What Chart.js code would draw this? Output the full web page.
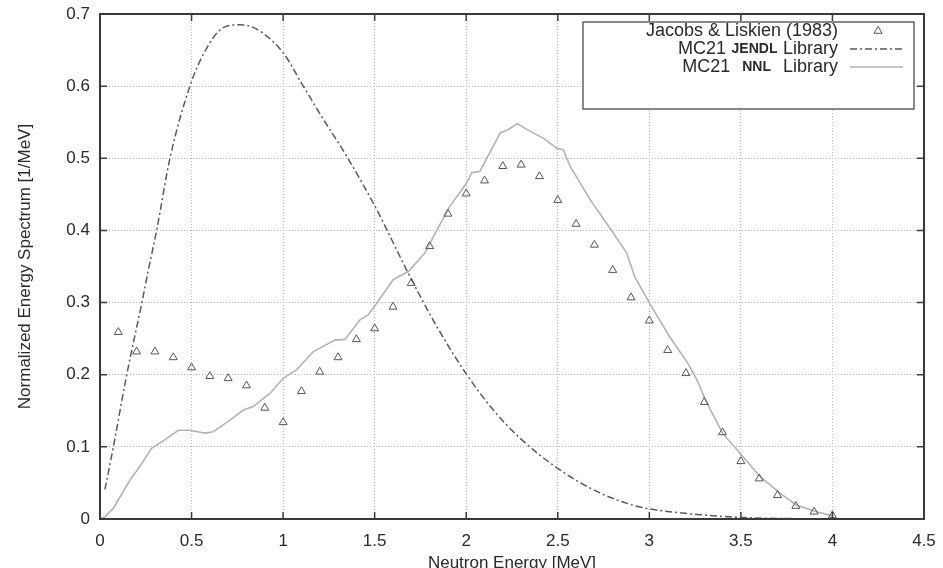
<!DOCTYPE html>
<html><head><meta charset="utf-8">
<script src="https://cdn.jsdelivr.net/npm/chart.js@4"></script>
<style>html,body{margin:0;padding:0;background:#fff}#wrap{width:943px;height:568px;position:relative}</style>
</head><body><div id="wrap"><canvas id="c"></canvas></div>
<script>
// ---- data ----
const expEnergy = [0.1,0.2,0.3,0.4,0.5,0.6,0.7,0.8,0.9,1.0,1.1,1.2,1.3,1.4,1.5,1.6,1.7,1.8,1.9,2.0,2.1,2.2,2.3,2.4,2.5,2.6,2.7,2.8,2.9,3.0,3.1,3.2,3.3,3.4,3.5,3.6,3.7,3.8,3.9,4.0];
const expSpectrum = [0.259,0.232,0.232,0.224,0.210,0.198,0.195,0.185,0.154,0.134,0.177,0.204,0.224,0.249,0.264,0.294,0.327,0.378,0.423,0.451,0.469,0.489,0.491,0.475,0.442,0.409,0.380,0.345,0.307,0.275,0.234,0.202,0.162,0.120,0.080,0.056,0.033,0.018,0.010,0.005];

const jendlEnergy = [0.027,0.073,0.146,0.228,0.264,0.31,0.382,0.491,0.564,0.673,0.765,0.856,1.001,1.11,1.22,1.347,1.511,1.675,1.839,2.003,2.148,2.294,2.512,2.731,2.913,3.0,3.277,3.51,4.0];
const jendlSpectrum = [0.041,0.100,0.200,0.299,0.345,0.401,0.500,0.600,0.644,0.681,0.685,0.679,0.646,0.600,0.554,0.503,0.429,0.345,0.267,0.200,0.151,0.112,0.068,0.036,0.019,0.014,0.006,0.002,0.0];

const nnlEnergy = [0.0,0.027,0.073,0.164,0.218,0.282,0.355,0.428,0.49,0.573,0.619,0.71,0.783,0.837,0.928,1.001,1.074,1.165,1.283,1.338,1.42,1.465,1.511,1.602,1.684,1.775,1.83,1.91,2.003,2.03,2.075,2.185,2.23,2.279,2.33,2.421,2.494,2.53,2.567,2.676,2.785,2.876,2.92,3.008,3.11,3.21,3.26,3.31,3.40,3.513,3.604,3.713,3.805,3.914,4.005];
const nnlSpectrum = [0.0,0.003,0.015,0.054,0.073,0.098,0.110,0.123,0.123,0.119,0.121,0.137,0.151,0.156,0.174,0.195,0.207,0.232,0.248,0.249,0.276,0.283,0.299,0.332,0.343,0.369,0.396,0.433,0.466,0.480,0.482,0.535,0.540,0.548,0.540,0.528,0.514,0.512,0.489,0.443,0.403,0.369,0.336,0.296,0.253,0.216,0.193,0.163,0.119,0.086,0.059,0.036,0.019,0.010,0.004];

const xTicks = [0,0.5,1,1.5,2,2.5,3,3.5,4,4.5];
const xTickLabels = ['0','0.5','1','1.5','2','2.5','3','3.5','4','4.5'];
const yTicks = [0,0.1,0.2,0.3,0.4,0.5,0.6,0.7];
const yTickLabels = ['0','0.1','0.2','0.3','0.4','0.5','0.6','0.7'];
const xTitle = 'Neutron Energy [MeV]';
const yTitle = 'Normalized Energy Spectrum [1/MeV]';
const seriesNames = ['Jacobs & Liskien (1983)', 'MC21 JENDL Library', 'MC21 NNL Library'];
const legendRows = [['Jacobs & Liskien (1983)'], ['MC21', 'JENDL', 'Library'], ['MC21', 'NNL', 'Library']];

// ---- styles ----
const FONT = '"Liberation Sans", Arial, Helvetica, sans-serif';
const TXT = '#2a2a2a';
const EXP_COL = '#555555';
const JENDL_COL = '#5a5a5a';
const NNL_COL = '#b3b3b3';
const JENDL_DASH = [7,3,2,3];

const pts = (xs, ys) => xs.map((v, i) => ({x: v, y: ys[i]}));

const framePlugin = {
  id: 'frame',
  afterDraw(chart) {
    const {ctx, chartArea: a, scales: {x, y}} = chart;
    ctx.save();
    // legend box
    const L = {l: 583, t: 22, r: 914, b: 109};
    ctx.fillStyle = '#fff';
    ctx.fillRect(L.l, L.t, L.r - L.l, L.b - L.t);
    ctx.strokeStyle = '#3a3a3a';
    ctx.lineWidth = 1.2;
    ctx.strokeRect(L.l, L.t, L.r - L.l, L.b - L.t);
    const textRight = 838;
    const rowY = [31, 49, 67];
    const gaps = [0, 5.5, 12];
    ctx.fillStyle = TXT;
    ctx.textBaseline = 'middle';
    legendRows.forEach((parts, i) => {
      const yy = rowY[i];
      if (parts.length === 1) {
        ctx.font = '18px ' + FONT;
        ctx.textAlign = 'right';
        ctx.fillText(parts[0], textRight, yy);
      } else {
        let xr = textRight;
        ctx.textAlign = 'right';
        ctx.font = '18px ' + FONT;
        ctx.fillText(parts[2], xr, yy);
        xr -= ctx.measureText(parts[2]).width + gaps[i];
        ctx.font = 'bold 14px ' + FONT;
        ctx.fillText(parts[1], xr, yy + 0.5);
        xr -= ctx.measureText(parts[1]).width + gaps[i];
        ctx.font = '18px ' + FONT;
        ctx.fillText(parts[0], xr, yy);
      }
    });
    // legend samples
    const r = 4.6, cx = 878, cy = rowY[0];
    ctx.beginPath();
    for (let k = 0; k < 3; k++) {
      const ang = k * 2 * Math.PI / 3;
      const px = cx + Math.sin(ang) * r, py = cy - Math.cos(ang) * r;
      if (k === 0) ctx.moveTo(px, py); else ctx.lineTo(px, py);
    }
    ctx.closePath();
    ctx.strokeStyle = EXP_COL; ctx.lineWidth = 1; ctx.stroke();
    ctx.beginPath(); ctx.setLineDash(JENDL_DASH); ctx.strokeStyle = JENDL_COL; ctx.lineWidth = 1.5;
    ctx.moveTo(850, rowY[1]); ctx.lineTo(903, rowY[1]); ctx.stroke();
    ctx.setLineDash([]);
    ctx.beginPath(); ctx.strokeStyle = NNL_COL; ctx.lineWidth = 1.5;
    ctx.moveTo(850, rowY[2]); ctx.lineTo(903, rowY[2]); ctx.stroke();

    // inward tick marks
    ctx.strokeStyle = '#3a3a3a'; ctx.lineWidth = 1.5;
    const tl = 7;
    ctx.beginPath();
    xTicks.forEach(v => {
      const px = x.getPixelForValue(v);
      ctx.moveTo(px, a.bottom); ctx.lineTo(px, a.bottom - tl);
      ctx.moveTo(px, a.top); ctx.lineTo(px, a.top + tl);
    });
    yTicks.forEach(v => {
      const py = y.getPixelForValue(v);
      ctx.moveTo(a.left, py); ctx.lineTo(a.left + tl, py);
      ctx.moveTo(a.right, py); ctx.lineTo(a.right - tl, py);
    });
    ctx.stroke();
    // plot frame
    ctx.lineWidth = 2;
    ctx.strokeRect(a.left, a.top, a.right - a.left, a.bottom - a.top);
    ctx.restore();
  }
};

new Chart(document.getElementById('c'), {
  type: 'scatter',
  data: {
    datasets: [
      {
        label: seriesNames[0],
        data: pts(expEnergy, expSpectrum),
        showLine: false,
        pointStyle: 'triangle',
        pointRadius: 4.6,
        pointBorderWidth: 1,
        pointBorderColor: EXP_COL,
        pointBackgroundColor: 'rgba(255,255,255,0)'
      },
      {
        label: seriesNames[1],
        data: pts(jendlEnergy, jendlSpectrum),
        showLine: true,
        borderColor: JENDL_COL,
        borderWidth: 1.5,
        borderDash: JENDL_DASH,
        cubicInterpolationMode: 'monotone',
        pointRadius: 0,
        fill: false
      },
      {
        label: seriesNames[2],
        data: pts(nnlEnergy, nnlSpectrum),
        showLine: true,
        borderColor: NNL_COL,
        borderWidth: 1.6,
        tension: 0,
        pointRadius: 0,
        fill: false
      }
    ]
  },
  options: {
    responsive: true,
    maintainAspectRatio: false,
    animation: false,
    layout: {padding: {top: 14, right: 19, left: 0, bottom: 0}},
    plugins: {legend: {display: false}, tooltip: {enabled: false}},
    scales: {
      x: {
        type: 'linear', min: 0, max: 4.5,
        afterBuildTicks: s => { s.ticks = xTicks.map(v => ({value: v})); },
        afterFit: s => { s.height = 49; s.paddingLeft = 0; s.paddingRight = 0; },
        grid: {color: '#b5b5b5', lineWidth: 1, drawTicks: false},
        border: {display: false, dash: [1, 2]},
        ticks: {padding: 12, color: TXT, font: {family: FONT, size: 17}, maxRotation: 0,
                callback: (v, i) => xTickLabels[i]},
        title: {display: true, text: xTitle, color: TXT, font: {family: FONT, size: 17}, padding: {top: 0, bottom: -6}}
      },
      y: {
        type: 'linear', min: 0, max: 0.7,
        afterBuildTicks: s => { s.ticks = yTicks.map(v => ({value: v})); },
        afterFit: s => { s.width = 100; s.paddingTop = 0; s.paddingBottom = 0; },
        grid: {color: '#b5b5b5', lineWidth: 1, drawTicks: false},
        border: {display: false, dash: [1, 2]},
        ticks: {padding: 10, color: TXT, font: {family: FONT, size: 17},
                callback: (v, i) => yTickLabels[i]},
        title: {display: true, text: yTitle, color: TXT, font: {family: FONT, size: 17}, padding: {top: 15, bottom: 0}}
      }
    }
  },
  plugins: [framePlugin]
});
</script>
</body></html>
